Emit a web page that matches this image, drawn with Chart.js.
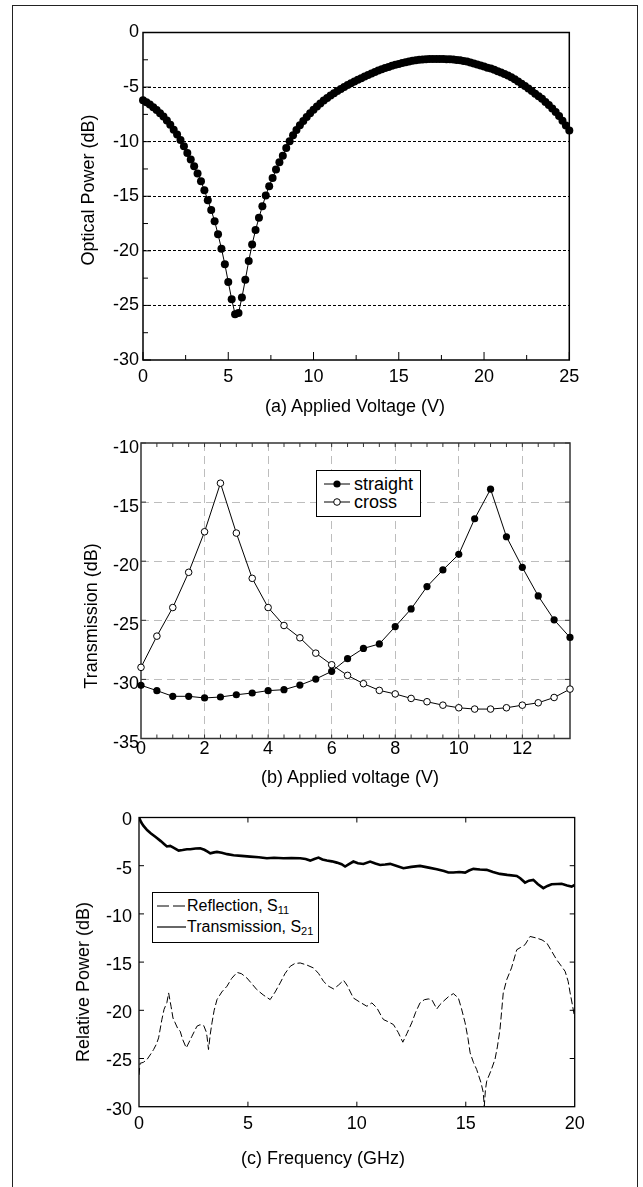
<!DOCTYPE html>
<html>
<head>
<meta charset="utf-8">
<title>Optical power, transmission and S-parameters</title>
<script src="https://cdn.jsdelivr.net/npm/chart.js@4.4.0/dist/chart.umd.min.js"></script>
<style>
  html, body { margin: 0; padding: 0; background: #fff; }
  #page { position: relative; width: 643px; height: 1187px; overflow: hidden; font-family: "Liberation Sans", Arial, sans-serif; color: #000; }
  #frame { position: absolute; left: 12px; top: 5px; width: 626px; height: 1300px; box-sizing: border-box; border: 1.3px solid #222; }
  canvas { position: absolute; left: 0; }
  .axis-title { position: absolute; font-size: 18px; line-height: 18px; white-space: nowrap; transform: translate(-50%, -50%); }
  .axis-title.vert { transform: translate(-50%, -50%) rotate(-90deg); }
  .legend { position: absolute; background: #fff; border: 1.2px solid #000; box-sizing: border-box; }
  .legend .row { position: absolute; left: 0; display: flex; align-items: center; white-space: nowrap; }
  .legend svg { display: block; flex: none; }
  #legendB { font-size: 18px; }
  #legendC { font-size: 16px; }
  #legendC sub { font-size: 11px; vertical-align: -3px; line-height: 0; }
</style>
</head>
<body>
<div id="page">
  <div id="frame"></div>

  <canvas id="chartA" width="643" height="400" style="top:0px"></canvas>
  <canvas id="chartB" width="643" height="390" style="top:400px"></canvas>
  <canvas id="chartC" width="643" height="397" style="top:790px"></canvas>

  <div class="axis-title" style="left:355px; top:406px">(a) Applied Voltage (V)</div>
  <div class="axis-title vert" style="left:88px; top:190px">Optical Power (dB)</div>

  <div class="axis-title" style="left:350px; top:777px">(b) Applied voltage (V)</div>
  <div class="axis-title vert" style="left:91px; top:616px">Transmission (dB)</div>

  <div class="axis-title" style="left:323px; top:1158px">(c) Frequency (GHz)</div>
  <div class="axis-title vert" style="left:83px; top:982px">Relative Power (dB)</div>

  <div class="legend" id="legendB" style="left:316px; top:470px; width:105px; height:47px">
    <div class="row" style="top:4px; height:18px">
      <svg width="37" height="18"><line x1="7" y1="9" x2="33" y2="9" stroke="#000" stroke-width="1"/><circle cx="20" cy="9" r="3.6" fill="#000"/></svg>
      <span>straight</span>
    </div>
    <div class="row" style="top:22px; height:18px">
      <svg width="37" height="18"><line x1="7" y1="9" x2="33" y2="9" stroke="#000" stroke-width="1"/><circle cx="20" cy="9" r="3.3" fill="#fff" stroke="#000" stroke-width="1"/></svg>
      <span>cross</span>
    </div>
  </div>

  <div class="legend" id="legendC" style="left:152px; top:892px; width:167px; height:51px">
    <div class="row" style="top:3px; height:20px">
      <svg width="34" height="20"><line x1="4" y1="10" x2="33" y2="10" stroke="#000" stroke-width="1" stroke-dasharray="12,4"/></svg>
      <span>Reflection, S<sub>11</sub></span>
    </div>
    <div class="row" style="top:24px; height:20px">
      <svg width="34" height="20"><line x1="4" y1="10" x2="33" y2="10" stroke="#000" stroke-width="1.2"/></svg>
      <span>Transmission, S<sub>21</sub></span>
    </div>
  </div>
</div>

<script>
// (a) optical power vs applied voltage
const voltsA = [
  0, 0.2, 0.4, 0.6, 0.8, 1, 1.2, 1.4, 1.6, 1.8,
  2, 2.2, 2.4, 2.6, 2.8, 3, 3.2, 3.4, 3.6, 3.8,
  4, 4.2, 4.4, 4.6, 4.8, 5, 5.2, 5.4, 5.6, 5.8,
  6, 6.2, 6.4, 6.6, 6.8, 7, 7.2, 7.4, 7.6, 7.8,
  8, 8.2, 8.4, 8.6, 8.8, 9, 9.2, 9.4, 9.6, 9.8,
  10, 10.2, 10.4, 10.6, 10.8, 11, 11.2, 11.4, 11.6, 11.8,
  12, 12.2, 12.4, 12.6, 12.8, 13, 13.2, 13.4, 13.6, 13.8,
  14, 14.2, 14.4, 14.6, 14.8, 15, 15.2, 15.4, 15.6, 15.8,
  16, 16.2, 16.4, 16.6, 16.8, 17, 17.2, 17.4, 17.6, 17.8,
  18, 18.2, 18.4, 18.6, 18.8, 19, 19.2, 19.4, 19.6, 19.8,
  20, 20.2, 20.4, 20.6, 20.8, 21, 21.2, 21.4, 21.6, 21.8,
  22, 22.2, 22.4, 22.6, 22.8, 23, 23.2, 23.4, 23.6, 23.8,
  24, 24.2, 24.4, 24.6, 24.8, 25
];
const powerA = [
  -6.2, -6.4, -6.6, -6.85, -7.1, -7.4, -7.7, -8.05, -8.45, -8.9,
  -9.35, -9.85, -10.43, -11.03, -11.64, -12.25, -12.92, -13.62, -14.45, -15.36,
  -16.27, -17.28, -18.49, -19.8, -21.23, -22.85, -24.43, -25.8, -25.7, -24.28,
  -22.66, -20.93, -19.41, -18.1, -16.97, -15.91, -14.93, -14.08, -13.32, -12.56,
  -11.89, -11.28, -10.58, -9.97, -9.42, -8.92, -8.5, -8.1, -7.74, -7.4,
  -7.08, -6.78, -6.5, -6.24, -6.0, -5.77, -5.56, -5.36, -5.17, -4.99,
  -4.82, -4.65, -4.49, -4.33, -4.18, -4.03, -3.89, -3.75, -3.62, -3.49,
  -3.37, -3.26, -3.15, -3.05, -2.96, -2.88, -2.8, -2.72, -2.65, -2.59,
  -2.54, -2.5, -2.47, -2.45, -2.43, -2.42, -2.42, -2.42, -2.43, -2.44,
  -2.46, -2.48, -2.51, -2.55, -2.6, -2.66, -2.74, -2.83, -2.92, -3.02,
  -3.12, -3.22, -3.3, -3.42, -3.54, -3.67, -3.8, -3.94, -4.11, -4.29,
  -4.48, -4.69, -4.9, -5.13, -5.36, -5.6, -5.83, -6.08, -6.36, -6.65,
  -6.96, -7.28, -7.66, -8.08, -8.52, -8.97
];
const xTicksA = [0, 5, 10, 15, 20, 25];
const xMinorA = [2.5, 7.5, 12.5, 17.5, 22.5];
const yTicksA = [0, -5, -10, -15, -20, -25, -30];
const yMinorA = [-2.5, -7.5, -12.5, -17.5, -22.5, -27.5];

// (b) straight / cross transmission vs applied voltage
const voltsB = [0, 0.5, 1, 1.5, 2, 2.5, 3, 3.5, 4, 4.5, 5, 5.5, 6, 6.5, 7, 7.5, 8, 8.5, 9, 9.5, 10, 10.5, 11, 11.5, 12, 12.5, 13, 13.5];
const straightB = [-30.5, -30.95, -31.43, -31.43, -31.57, -31.49, -31.3, -31.15, -30.95, -30.87, -30.48, -29.97, -29.32, -28.25, -27.38, -27.0, -25.53, -24.04, -22.15, -20.74, -19.42, -16.41, -13.91, -17.93, -20.52, -22.94, -24.96, -26.45];
const crossB = [-28.98, -26.34, -23.92, -20.94, -17.51, -13.4, -17.62, -21.45, -23.92, -25.44, -26.48, -27.78, -28.76, -29.66, -30.36, -30.93, -31.23, -31.61, -31.89, -32.18, -32.4, -32.51, -32.51, -32.4, -32.18, -31.98, -31.53, -30.82];
const xTicksB = [0, 2, 4, 6, 8, 10, 12];
const xMinorB = [0.5, 1, 1.5, 2, 2.5, 3, 3.5, 4, 4.5, 5, 5.5, 6, 6.5, 7, 7.5, 8, 8.5, 9, 9.5, 10, 10.5, 11, 11.5, 12, 12.5, 13];
const yTicksB = [-10, -15, -20, -25, -30, -35];

// (c) S-parameters vs frequency
const freqS21 = [
  0, 0.1, 0.2, 0.37, 0.55, 0.75, 1.0, 1.15, 1.28, 1.43,
  1.6, 1.82, 2.0, 2.2, 2.35, 2.6, 2.81, 3.0, 3.15, 3.27,
  3.45, 3.58, 3.8, 4.05, 4.34, 4.7, 5.1, 5.5, 5.87, 6.2,
  6.63, 7.0, 7.4, 7.65, 7.86, 8.05, 8.24, 8.42, 8.62, 8.85,
  9.08, 9.3, 9.46, 9.6, 9.84, 10.05, 10.3, 10.61, 10.85, 11.07,
  11.3, 11.53, 11.8, 12.14, 12.5, 12.9, 13.3, 13.67, 14.0, 14.2,
  14.43, 14.7, 14.97, 15.15, 15.35, 15.65, 15.96, 16.25, 16.57, 16.9,
  17.34, 17.5, 17.72, 17.9, 18.1, 18.3, 18.56, 18.75, 18.94, 19.2,
  19.4, 19.65, 19.86, 20
];
const s21 = [
  0, -0.5, -0.85, -1.3, -1.65, -2.0, -2.45, -2.75, -3.0, -2.95,
  -3.15, -3.43, -3.38, -3.3, -3.3, -3.22, -3.19, -3.35, -3.55, -3.71,
  -3.62, -3.57, -3.65, -3.8, -3.92, -3.98, -4.06, -4.12, -4.23, -4.18,
  -4.23, -4.2, -4.23, -4.3, -4.47, -4.3, -4.16, -4.35, -4.47, -4.55,
  -4.68, -4.85, -5.09, -4.9, -4.57, -4.75, -4.82, -4.57, -4.78, -4.92,
  -4.88, -4.81, -5.0, -5.26, -5.12, -5.02, -5.2, -5.36, -5.55, -5.7,
  -5.71, -5.65, -5.71, -5.5, -5.33, -5.4, -5.43, -5.65, -5.85, -5.95,
  -6.06, -6.3, -6.75, -6.55, -6.47, -6.9, -7.33, -7.1, -6.92, -6.9,
  -6.88, -7.05, -7.16, -6.99
];
const freqS11 = [
  0, 0.05, 0.2, 0.37, 0.55, 0.67, 0.8, 0.9, 1.05, 1.15,
  1.21, 1.28, 1.36, 1.47, 1.56, 1.66, 1.78, 1.89, 2.0, 2.17,
  2.3, 2.43, 2.66, 2.8, 2.97, 3.08, 3.12, 3.19, 3.27, 3.35,
  3.45, 3.58, 3.8, 4.04, 4.25, 4.5, 4.7, 4.95, 5.2, 5.41,
  5.7, 6.02, 6.25, 6.48, 6.7, 6.94, 7.15, 7.4, 7.7, 8.01,
  8.25, 8.47, 8.7, 8.93, 9.15, 9.39, 9.55, 9.84, 10.1, 10.46,
  10.69, 10.92, 11.1, 11.22, 11.45, 11.68, 11.9, 12.11, 12.3, 12.52,
  12.7, 12.9, 13.1, 13.28, 13.44, 13.67, 13.82, 13.97, 14.2, 14.43,
  14.66, 14.8, 14.97, 15.1, 15.2, 15.35, 15.5, 15.7, 15.8, 15.85,
  15.9, 15.96, 16.15, 16.34, 16.45, 16.57, 16.65, 16.72, 16.88, 17.1,
  17.34, 17.5, 17.72, 17.95, 18.26, 18.5, 18.72, 18.95, 19.17, 19.35,
  19.56, 19.7, 19.79, 19.9, 20
];
const s11 = [
  -26.7, -25.5, -25.4, -25.1, -24.5, -24.07, -23.5, -22.86, -20.96, -19.9,
  -19.58, -19.2, -18.2, -19.58, -20.8, -21.3, -21.9, -22.17, -23.0, -23.9,
  -23.3, -22.69, -21.65, -21.5, -21.58, -22.2, -22.69, -24.07, -22.5, -21.3,
  -20.0, -18.89, -18.1, -17.5, -16.7, -16.07, -16.2, -16.64, -17.3, -17.86,
  -18.4, -18.89, -18.1, -17.16, -16.2, -15.44, -15.15, -15.09, -15.3, -15.61,
  -16.2, -17.0, -17.5, -17.78, -17.4, -16.89, -17.4, -18.72, -19.1, -19.58,
  -19.23, -19.75, -20.5, -20.96, -21.2, -21.48, -22.3, -23.31, -22.4, -21.3,
  -20.2, -19.23, -18.9, -18.82, -18.89, -19.86, -19.4, -19.07, -18.6, -18.27,
  -18.72, -19.8, -21.3, -22.9, -24.41, -25.4, -26.14, -27.52, -28.5, -29.95,
  -28.3, -27.35, -26.3, -25.1, -23.8, -21.99, -20.0, -18.2, -16.82, -15.6,
  -13.72, -13.5, -13.2, -12.34, -12.51, -12.7, -13.02, -13.9, -14.75, -15.3,
  -15.96, -17.0, -18.2, -19.5, -20.79
];
const xTicksC = [0, 5, 10, 15, 20];
const xMarksC = [5, 10, 15];
const yTicksC = [0, -5, -10, -15, -20, -25, -30];
const yMarksC = [-5, -10, -15, -20, -25];

Chart.defaults.font.family = '"Liberation Sans", Arial, sans-serif';
Chart.defaults.font.size = 18;
Chart.defaults.color = '#000';

// inward tick marks plus the closed box round the plot area
const edgeMarks = {
  id: 'edgeMarks',
  beforeDatasetsDraw(chart, args, opts) {
    const { ctx, chartArea: a, scales } = chart;
    ctx.save();
    ctx.setLineDash([]);
    ctx.strokeStyle = opts.color;
    ctx.lineWidth = 1;
    for (const m of opts.marks) {
      const s = scales[m.axis];
      for (const v of m.values) {
        const p = s.getPixelForValue(v);
        ctx.beginPath();
        if (m.edge === 'bottom') { ctx.moveTo(p, a.bottom); ctx.lineTo(p, a.bottom - m.len); }
        if (m.edge === 'top') { ctx.moveTo(p, a.top); ctx.lineTo(p, a.top + m.len); }
        if (m.edge === 'left') { ctx.moveTo(a.left, p); ctx.lineTo(a.left + m.len, p); }
        if (m.edge === 'right') { ctx.moveTo(a.right, p); ctx.lineTo(a.right - m.len, p); }
        ctx.stroke();
      }
    }
    ctx.lineWidth = opts.frameWidth;
    ctx.strokeRect(a.left, a.top, a.right - a.left, a.bottom - a.top);
    ctx.restore();
  }
};

function pts(xs, ys) {
  return xs.map((x, i) => ({ x: x, y: ys[i] }));
}

function axis(min, max, tickValues, fit, extra) {
  return Object.assign({
    type: 'linear', min: min, max: max,
    afterBuildTicks: s => { s.ticks = tickValues.map(v => ({ value: v })); },
    afterFit: fit,
    grid: { display: false, drawTicks: false },
    border: { display: false },
    ticks: { maxRotation: 0, autoSkip: false, callback: v => String(v) }
  }, extra);
}

const common = {
  responsive: false,
  animation: false,
  events: [],
  plugins: { legend: { display: false }, tooltip: { enabled: false } }
};

new Chart(document.getElementById('chartA'), {
  type: 'scatter',
  data: {
    datasets: [{
      data: pts(voltsA, powerA),
      showLine: true, borderColor: '#000', borderWidth: 1,
      pointRadius: 4, pointBackgroundColor: '#000', pointBorderWidth: 0,
      clip: false
    }]
  },
  options: Object.assign({}, common, {
    layout: { padding: { left: 0, right: 73.7, top: 32.5, bottom: 0 } },
    scales: {
      x: axis(0, 25, xTicksA, s => { s.height = 40; }, {
        ticks: { padding: 6, maxRotation: 0, autoSkip: false, callback: v => String(v) }
      }),
      y: axis(-30, 0, yTicksA, s => { s.width = 143; }, {
        grid: { color: c => (c.tick.value === 0 || c.tick.value === -30) ? 'rgba(0,0,0,0)' : '#000', lineWidth: 1, drawTicks: false },
        border: { display: false, dash: [3, 2] },
        ticks: { padding: 4, autoSkip: false, callback: v => String(v) }
      })
    },
    plugins: Object.assign({}, common.plugins, {
      edgeMarks: {
        color: '#000', frameWidth: 1.5,
        marks: [
          { axis: 'x', edge: 'bottom', values: xTicksA, len: 8 },
          { axis: 'x', edge: 'bottom', values: xMinorA, len: 5 },
          { axis: 'y', edge: 'left', values: yTicksA, len: 8 },
          { axis: 'y', edge: 'left', values: yMinorA, len: 5 }
        ]
      }
    })
  }),
  plugins: [edgeMarks]
});

new Chart(document.getElementById('chartB'), {
  type: 'scatter',
  data: {
    datasets: [{
      label: 'straight',
      data: pts(voltsB, straightB),
      showLine: true, borderColor: '#000', borderWidth: 1,
      pointRadius: 3.6, pointBackgroundColor: '#000', pointBorderWidth: 0,
      clip: false
    }, {
      label: 'cross',
      data: pts(voltsB, crossB),
      showLine: true, borderColor: '#000', borderWidth: 1,
      pointRadius: 3.3, pointBackgroundColor: '#fff', pointBorderColor: '#000', pointBorderWidth: 1,
      clip: false
    }]
  },
  options: Object.assign({}, common, {
    layout: { padding: { left: 0, right: 73, top: 43, bottom: 0 } },
    scales: {
      x: axis(0, 13.5, xTicksB, s => { s.height = 51.5; }, {
        grid: { color: c => c.tick.value === 0 ? 'rgba(0,0,0,0)' : '#bdbdbd', lineWidth: 1, drawTicks: false },
        border: { display: false, dash: [8, 5] },
        ticks: { padding: 0, maxRotation: 0, autoSkip: false, callback: v => String(v) }
      }),
      y: axis(-35, -10, yTicksB, s => { s.width = 141; }, {
        grid: { color: c => (c.tick.value === -10 || c.tick.value === -35) ? 'rgba(0,0,0,0)' : '#bdbdbd', lineWidth: 1, drawTicks: false },
        border: { display: false, dash: [8, 5] },
        ticks: { padding: 2, labelOffset: 5, autoSkip: false, callback: v => String(v) }
      })
    },
    plugins: Object.assign({}, common.plugins, {
      edgeMarks: {
        color: '#333', frameWidth: 1.5,
        marks: [
          { axis: 'x', edge: 'bottom', values: xMinorB, len: 4 },
          { axis: 'x', edge: 'top', values: xMinorB, len: 4 },
          { axis: 'y', edge: 'left', values: yTicksB, len: 5 },
          { axis: 'y', edge: 'right', values: yTicksB, len: 5 }
        ]
      }
    })
  }),
  plugins: [edgeMarks]
});

new Chart(document.getElementById('chartC'), {
  type: 'scatter',
  data: {
    datasets: [{
      label: 'Transmission, S21',
      data: pts(freqS21, s21),
      showLine: true, borderColor: '#000', borderWidth: 2.6, pointRadius: 0
    }, {
      label: 'Reflection, S11',
      data: pts(freqS11, s11),
      showLine: true, borderColor: '#000', borderWidth: 1, borderDash: [7, 3], pointRadius: 0
    }]
  },
  options: Object.assign({}, common, {
    layout: { padding: { left: 0, right: 68.3, top: 27.5, bottom: 0 } },
    scales: {
      x: axis(0, 20, xTicksC, s => { s.height = 80.3; }, {
        ticks: { padding: 7, maxRotation: 0, autoSkip: false, callback: v => String(v) }
      }),
      y: axis(-30, 0, yTicksC, s => { s.width = 139; }, {
        ticks: { padding: 7, labelOffset: 3, autoSkip: false, callback: v => String(v) }
      })
    },
    plugins: Object.assign({}, common.plugins, {
      edgeMarks: {
        color: '#000', frameWidth: 1.3,
        marks: [
          { axis: 'x', edge: 'bottom', values: xMarksC, len: 5 },
          { axis: 'x', edge: 'top', values: xMarksC, len: 5 },
          { axis: 'y', edge: 'left', values: yMarksC, len: 5 },
          { axis: 'y', edge: 'right', values: yMarksC, len: 5 }
        ]
      }
    })
  }),
  plugins: [edgeMarks]
});
</script>
</body>
</html>
